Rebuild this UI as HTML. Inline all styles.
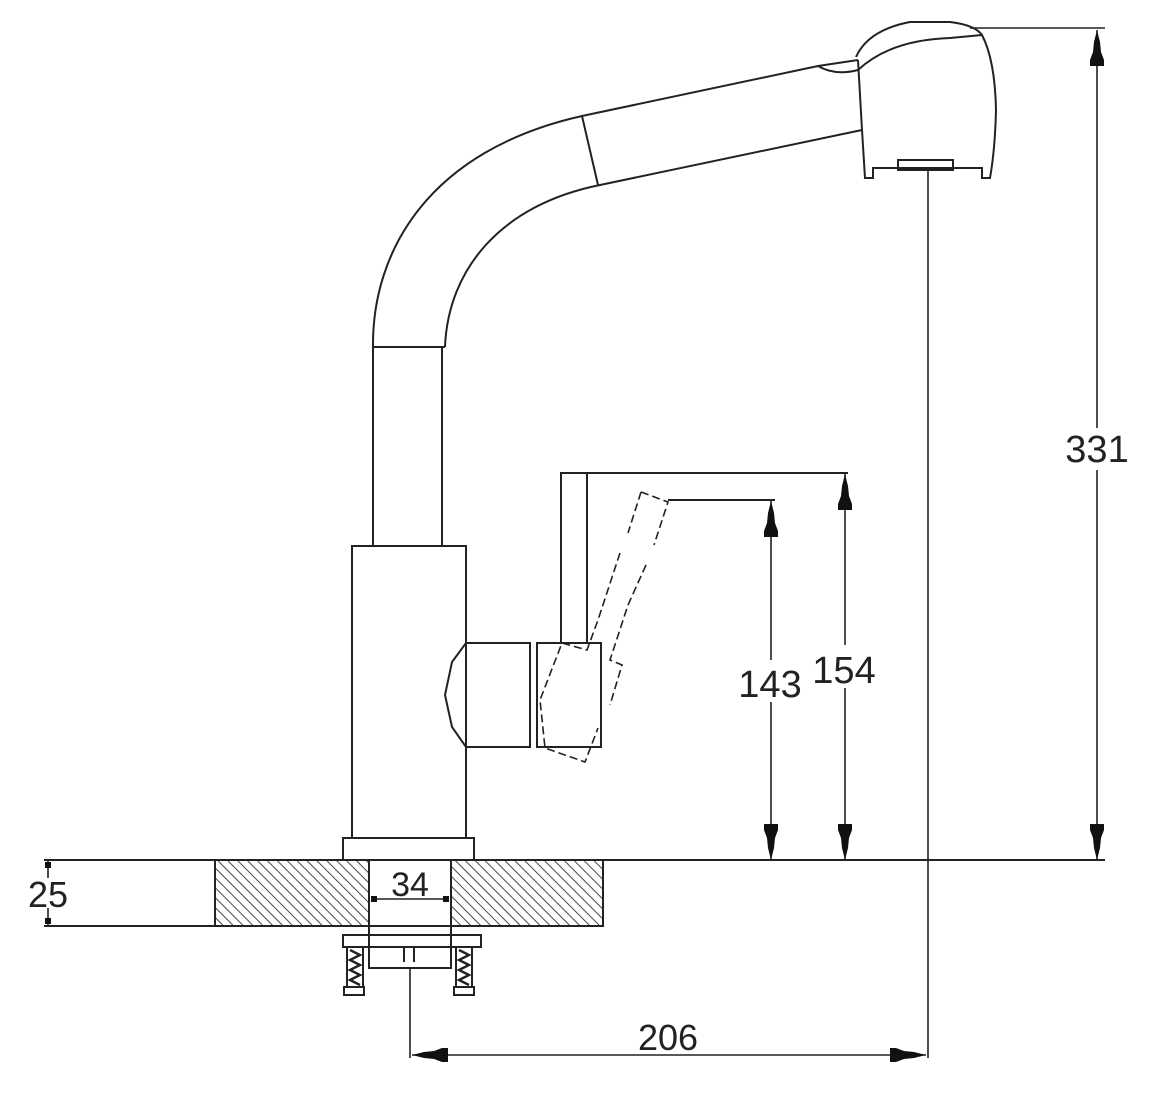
<!DOCTYPE html>
<html><head><meta charset="utf-8"><style>
html,body{margin:0;padding:0;background:#fff;}
svg{display:block;}
text{font-family:"Liberation Sans",sans-serif;fill:#222;}
</style></head><body>
<svg width="1159" height="1109" viewBox="0 0 1159 1109" xmlns="http://www.w3.org/2000/svg">
<defs>
<pattern id="hatch" patternUnits="userSpaceOnUse" width="7" height="7" patternTransform="rotate(-45)">
<rect width="7" height="7" fill="#fff"/>
<line x1="0" y1="0" x2="0" y2="7" stroke="#333" stroke-width="1.8"/>
</pattern>
<symbol id="arrUp" viewBox="-8 0 16 40" overflow="visible">
<polygon points="0,0 -3,12 -4,22 -7,30 -7,36 7,36 7,30 4,22 3,12" fill="#111"/>
</symbol>
</defs>
<g fill="none" stroke="#222" stroke-width="2">
<path d="M373,347 C372,250 430,150 582,116 L818,66 L858,60"/>
<path d="M445,347 C448,270 500,205 600,185 L862,130"/>
<path d="M582,116 L598,185"/>
<path d="M818,66 Q835,76 858,70"/>
<path d="M856,57 Q868,30 910,22 L950,22 Q975,25 982,35 Q995,60 996,110 Q995,150 990,178 L982,178 L982,168 L873,168 L873,178 L865,178 L862,130 L858,60"/>
<path d="M858,70 Q890,40 950,38 L982,35" />
<rect x="898" y="160" width="55" height="10"/>
<line x1="373" y1="347" x2="445" y2="347"/>
<line x1="373" y1="347" x2="373" y2="546"/>
<line x1="442" y1="347" x2="442" y2="546"/>
<rect x="352" y="546" width="114" height="292"/>
<rect x="343" y="838" width="131" height="22"/>
<path d="M466,643 L530,643 L530,747 L466,747 L452,727 L445,695 L452,662 Z"/>
<rect x="537" y="643" width="64" height="104"/>
<path d="M561,643 L561,473 L848,473"/>
<line x1="587" y1="473" x2="587" y2="643"/>
<g stroke-dasharray="8,4" stroke-width="1.6">
<path d="M641,492 L668,502 L654,545 M646,565 L628,605 L610,660 L622,665 L610,705"/>
<path d="M641,492 L628,533 M620,553 L598,620 L587,650 L562,643 L540,700 L545,748 L585,762 L598,728"/>
</g>
<line x1="668" y1="500" x2="775" y2="500"/>
<line x1="44" y1="860" x2="1105" y2="860"/>
<line x1="44" y1="926" x2="215" y2="926"/>
<rect x="215" y="860" width="154" height="66" fill="url(#hatch)"/>
<rect x="451" y="860" width="152" height="66" fill="url(#hatch)"/>
<line x1="369" y1="860" x2="369" y2="968"/>
<line x1="451" y1="860" x2="451" y2="968"/>
<rect x="343" y="935" width="138" height="12"/>
<rect x="369" y="926" width="82" height="42"/>
<line x1="369" y1="947" x2="451" y2="947"/>
<line x1="404" y1="947" x2="404" y2="962"/><line x1="414" y1="947" x2="414" y2="962"/>
<rect x="347" y="947" width="16" height="40"/>
<rect x="456" y="947" width="16" height="40"/>
<path d="M350,950 L360,955 L350,960 L360,965 L350,970 L360,975 L350,980 L360,985" stroke-width="2.4"/>
<path d="M459,950 L469,955 L459,960 L469,965 L459,970 L469,975 L459,980 L469,985" stroke-width="2.4"/>
<rect x="344" y="987" width="20" height="8"/>
<rect x="454" y="987" width="20" height="8"/>
<line x1="928" y1="170" x2="928" y2="1058" stroke-width="1.6"/>
<line x1="410" y1="968" x2="410" y2="1058" stroke-width="1.6"/>
<line x1="412" y1="1055" x2="926" y2="1055" stroke-width="1.6"/>
<line x1="970" y1="28" x2="1105" y2="28" stroke-width="1.6"/>
<line x1="1097" y1="30" x2="1097" y2="428" stroke-width="1.6"/>
<line x1="1097" y1="470" x2="1097" y2="860" stroke-width="1.6"/>
<line x1="845" y1="473" x2="845" y2="645" stroke-width="1.6"/>
<line x1="845" y1="688" x2="845" y2="860" stroke-width="1.6"/>
<line x1="771" y1="500" x2="771" y2="660" stroke-width="1.6"/>
<line x1="771" y1="702" x2="771" y2="860" stroke-width="1.6"/>
<line x1="48" y1="860" x2="48" y2="878" stroke-width="1.6"/>
<line x1="48" y1="908" x2="48" y2="926" stroke-width="1.6"/>
<line x1="372" y1="899" x2="449" y2="899" stroke-width="1.6"/>
</g>
<use href="#arrUp" x="1089" y="30" width="16" height="40"/>
<use href="#arrUp" transform="translate(1097,860) rotate(180)" x="-8" y="0" width="16" height="40"/>
<use href="#arrUp" x="837" y="474" width="16" height="40"/>
<use href="#arrUp" transform="translate(845,860) rotate(180)" x="-8" y="0" width="16" height="40"/>
<use href="#arrUp" x="763" y="501" width="16" height="40"/>
<use href="#arrUp" transform="translate(771,860) rotate(180)" x="-8" y="0" width="16" height="40"/>
<use href="#arrUp" transform="translate(412,1055) rotate(-90)" x="-8" y="0" width="16" height="40"/>
<use href="#arrUp" transform="translate(926,1055) rotate(90)" x="-8" y="0" width="16" height="40"/>
<g fill="#111"><rect x="45" y="862" width="6" height="6"/><rect x="45" y="918" width="6" height="6"/><rect x="371" y="896" width="6" height="6"/><rect x="443" y="896" width="6" height="6"/></g>
<text x="1097" y="462" font-size="38" text-anchor="middle">331</text>
<text x="844" y="683" font-size="38" text-anchor="middle">154</text>
<text x="770" y="697" font-size="38" text-anchor="middle">143</text>
<text x="668" y="1050" font-size="36" text-anchor="middle">206</text>
<text x="410" y="896" font-size="34" text-anchor="middle">34</text>
<text x="48" y="907" font-size="36" text-anchor="middle">25</text>
</svg>
</body></html>
